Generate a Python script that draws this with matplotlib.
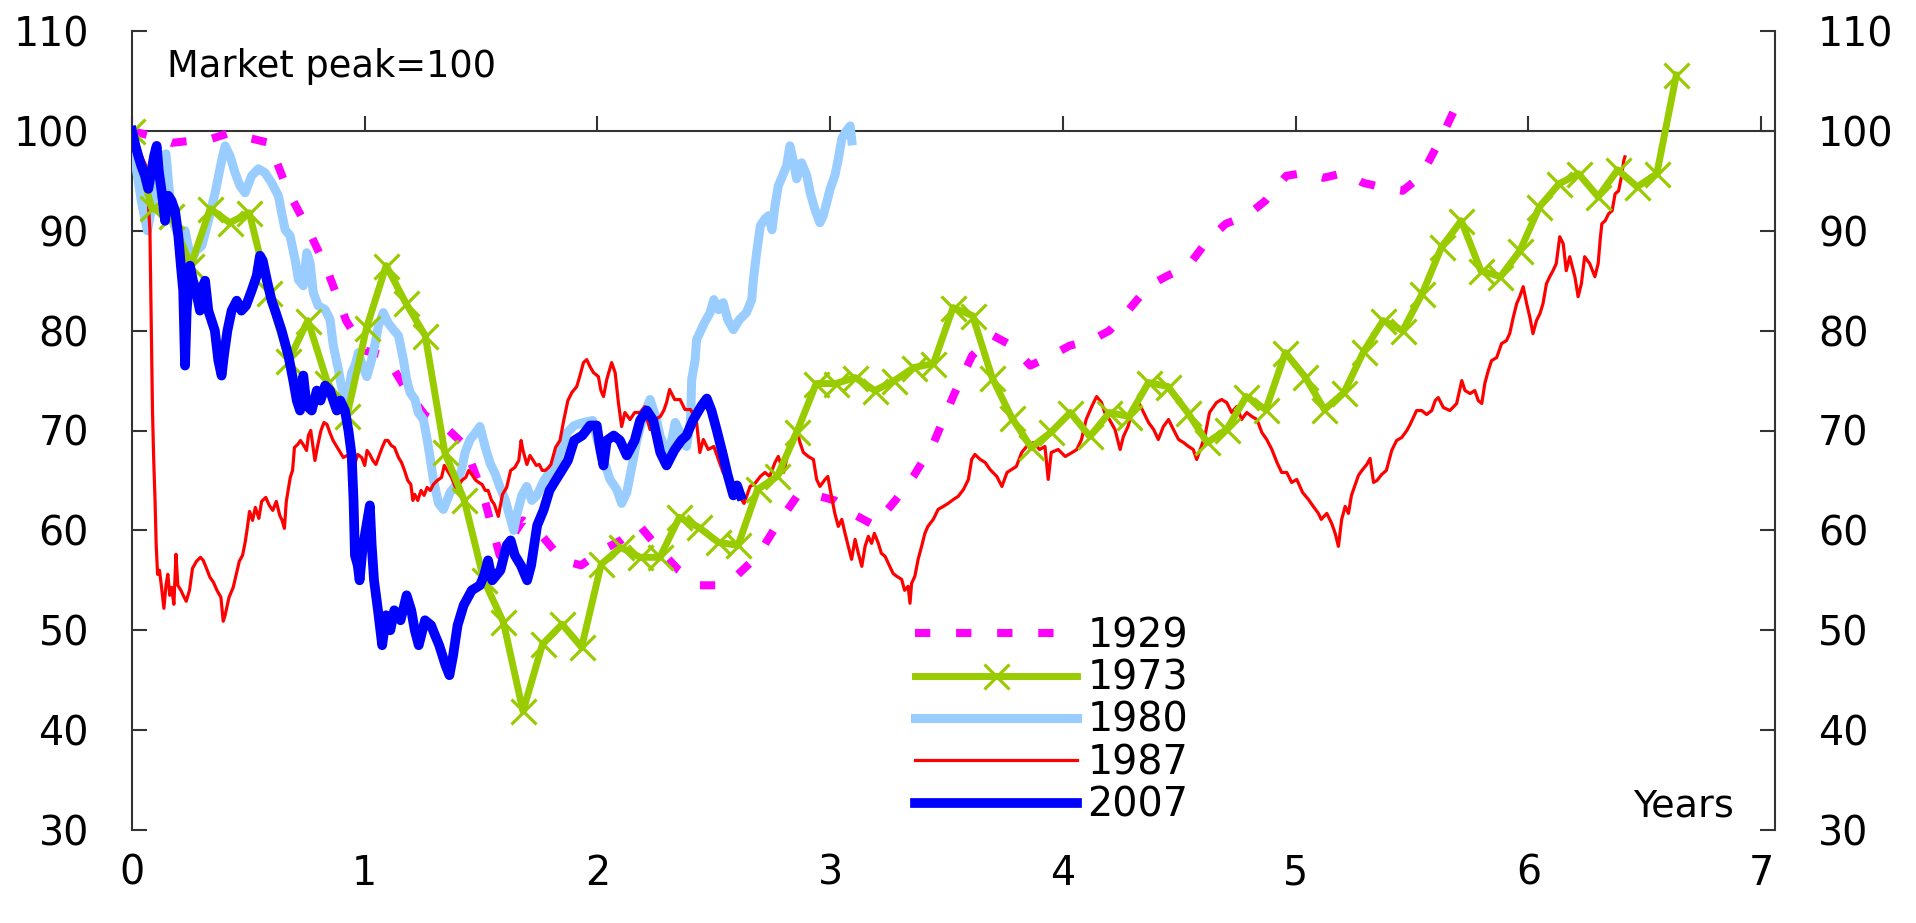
import matplotlib
matplotlib.use("Agg")
import matplotlib.pyplot as plt

# ---------------- data (years since market peak, index with peak = 100) ----------------
t1929 = [0.00, 0.08, 0.17, 0.25, 0.34, 0.42, 0.50, 0.59, 0.67, 0.76, 0.84, 0.92, 1.00, 1.09,
         1.18, 1.26, 1.34, 1.43, 1.51, 1.58, 1.68, 1.76, 1.85, 1.93, 2.02, 2.10, 2.18, 2.27,
         2.35, 2.44, 2.52, 2.60, 2.69, 2.77, 2.86, 2.94, 3.02, 3.11, 3.19, 3.28, 3.36, 3.44,
         3.53, 3.61, 3.70, 3.78, 3.86, 3.95, 4.03, 4.12, 4.20, 4.28, 4.37, 4.45, 4.54, 4.62,
         4.70, 4.79, 4.87, 4.96, 5.04, 5.12, 5.21, 5.29, 5.38, 5.46, 5.54, 5.63, 5.72]
v1929 = [100.0, 99.5, 98.8, 99.0, 99.2, 99.8, 99.3, 98.8, 94.0, 90.0, 86.0, 81.0, 78.0, 77.5,
         74.0, 71.5, 70.5, 68.5, 63.5, 57.5, 61.0, 59.5, 57.0, 56.5, 58.0, 59.0, 60.5, 58.0,
         56.0, 54.5, 54.5, 55.5, 57.5, 60.5, 63.5, 63.5, 63.0, 61.5, 60.5, 63.0, 65.5, 68.5,
         73.5, 77.5, 79.5, 78.5, 76.5, 77.5, 78.5, 79.0, 80.0, 82.0, 84.5, 85.5, 86.5, 89.0,
         90.7, 91.5, 93.0, 95.5, 95.8, 95.3, 95.8, 94.8, 94.3, 94.0, 95.5, 99.5, 104.0]

month73 = list(range(80))          # monthly observations
v1973 = [100.0, 92.3, 91.5, 86.5, 92.2, 90.8, 91.8, 83.8, 77.0, 81.0, 74.8, 71.5, 80.3, 86.5,
         82.8, 79.5, 67.8, 63.0, 55.0, 50.8, 41.9, 48.6, 50.6, 48.3, 56.6, 58.3, 57.3, 57.3,
         61.3, 60.3, 58.8, 58.5, 64.1, 65.4, 69.8, 74.7, 74.7, 75.3, 74.0, 75.0, 76.3, 76.7,
         82.3, 81.5, 75.3, 71.3, 68.3, 69.8, 71.8, 69.4, 71.8, 71.4, 74.8, 74.4, 71.8, 68.8,
         70.1, 73.4, 72.1, 77.8, 75.4, 72.1, 73.8, 77.9, 81.0, 80.0, 83.7, 88.4, 91.0, 86.0,
         85.4, 88.0, 92.4, 94.7, 95.7, 93.4, 96.1, 94.4, 95.7, 105.6]
YEARS_PER_MONTH73 = 0.084

t1980 = [0.000, 0.020, 0.040, 0.066, 0.090, 0.110, 0.130, 0.146, 0.160, 0.175, 0.200, 0.228,
         0.245, 0.256, 0.275, 0.300, 0.328, 0.357, 0.385, 0.400, 0.421, 0.443, 0.464, 0.486,
         0.514, 0.543, 0.572, 0.600, 0.629, 0.643, 0.658, 0.679, 0.701, 0.715, 0.736, 0.751,
         0.765, 0.779, 0.800, 0.830, 0.851, 0.865, 0.887, 0.900, 0.922, 0.944, 0.958, 0.973,
         0.990, 1.009, 1.023, 1.037, 1.059, 1.080, 1.100, 1.123, 1.145, 1.166, 1.180, 1.195,
         1.216, 1.230, 1.252, 1.266, 1.280, 1.295, 1.317, 1.338, 1.367, 1.388, 1.417, 1.431,
         1.453, 1.474, 1.495, 1.517, 1.539, 1.560, 1.580, 1.603, 1.640, 1.653, 1.675, 1.696,
         1.718, 1.740, 1.770, 1.800, 1.820, 1.850, 1.870, 1.900, 1.940, 1.980, 2.000, 2.026,
         2.054, 2.083, 2.104, 2.126, 2.148, 2.170, 2.197, 2.226, 2.254, 2.270, 2.300, 2.320,
         2.334, 2.355, 2.383, 2.400, 2.405, 2.420, 2.426, 2.440, 2.460, 2.484, 2.500, 2.520,
         2.540, 2.560, 2.584, 2.610, 2.640, 2.663, 2.670, 2.684, 2.700, 2.720, 2.735, 2.750,
         2.763, 2.777, 2.790, 2.813, 2.827, 2.840, 2.856, 2.877, 2.900, 2.914, 2.935, 2.956,
         2.970, 2.985, 3.000, 3.020, 3.035, 3.050, 3.064, 3.086, 3.093]
v1980 = [100.0, 96.0, 93.0, 90.0, 93.0, 96.0, 97.5, 97.7, 94.0, 91.0, 89.5, 90.0,
         88.0, 87.0, 88.0, 88.5, 91.0, 93.8, 97.0, 98.5, 97.5, 95.8, 94.5, 93.8,
         95.5, 96.2, 95.8, 94.8, 93.5, 91.8, 90.1, 89.5, 87.1, 85.1, 84.5, 87.8,
         86.8, 83.8, 82.5, 82.1, 81.1, 78.5, 76.1, 74.4, 72.8, 75.8, 76.5, 77.8,
         76.5, 75.4, 76.5, 77.8, 80.5, 81.8, 80.8, 80.1, 79.5, 77.1, 75.1, 73.8,
         73.1, 71.8, 71.1, 69.4, 67.4, 65.1, 62.7, 62.1, 63.8, 64.4, 66.1, 67.8,
         69.1, 69.7, 70.4, 68.4, 66.7, 65.7, 64.4, 63.1, 60.0, 61.5, 63.5, 64.4,
         63.0, 63.5, 65.0, 66.0, 66.5, 68.5, 69.8, 70.5, 70.8, 71.0, 69.0, 67.1,
         65.1, 64.1, 62.7, 63.8, 66.4, 69.1, 71.4, 73.1, 71.1, 69.4, 67.8, 69.1,
         70.8, 69.8, 68.4, 71.1, 75.1, 77.1, 79.1, 79.8, 80.8, 81.8, 83.1, 82.1,
         82.8, 81.1, 80.1, 81.1, 81.8, 83.1, 85.1, 87.8, 90.5, 91.2, 91.5, 90.1,
         92.5, 94.5, 95.2, 96.5, 98.5, 97.2, 95.2, 96.8, 95.5, 93.8, 92.1, 90.8,
         91.5, 92.8, 94.2, 95.5, 97.2, 99.2, 99.8, 100.5, 99.0]

t1987 = [0.000, 0.020, 0.040, 0.060, 0.070, 0.077, 0.083, 0.088, 0.093, 0.099, 0.104, 0.110,
         0.118, 0.127, 0.137, 0.146, 0.154, 0.162, 0.170, 0.180, 0.189, 0.197, 0.210, 0.220,
         0.233, 0.247, 0.260, 0.277, 0.294, 0.306, 0.320, 0.335, 0.350, 0.365, 0.382, 0.392,
         0.400, 0.417, 0.435, 0.450, 0.461, 0.475, 0.487, 0.497, 0.505, 0.518, 0.530, 0.545,
         0.557, 0.575, 0.590, 0.605, 0.620, 0.635, 0.645, 0.655, 0.663, 0.680, 0.690, 0.698,
         0.712, 0.724, 0.738, 0.750, 0.758, 0.768, 0.777, 0.786, 0.798, 0.812, 0.825, 0.838,
         0.850, 0.864, 0.882, 0.895, 0.908, 0.925, 0.943, 0.955, 0.970, 0.987, 1.000, 1.010,
         1.022, 1.035, 1.048, 1.062, 1.075, 1.088, 1.100, 1.114, 1.128, 1.145, 1.158, 1.171,
         1.185, 1.198, 1.207, 1.215, 1.228, 1.242, 1.255, 1.268, 1.282, 1.295, 1.312, 1.330,
         1.342, 1.355, 1.373, 1.390, 1.404, 1.417, 1.434, 1.447, 1.460, 1.478, 1.490, 1.504,
         1.518, 1.530, 1.545, 1.557, 1.574, 1.583, 1.592, 1.610, 1.627, 1.645, 1.662, 1.672,
         1.680, 1.697, 1.710, 1.724, 1.737, 1.750, 1.763, 1.776, 1.790, 1.800, 1.820, 1.839,
         1.855, 1.873, 1.890, 1.911, 1.925, 1.940, 1.954, 1.968, 1.983, 2.004, 2.015, 2.026,
         2.040, 2.061, 2.076, 2.090, 2.104, 2.118, 2.140, 2.160, 2.183, 2.204, 2.215, 2.226,
         2.247, 2.270, 2.285, 2.297, 2.310, 2.332, 2.355, 2.376, 2.400, 2.415, 2.426, 2.440,
         2.455, 2.476, 2.500, 2.520, 2.540, 2.563, 2.584, 2.610, 2.630, 2.656, 2.677, 2.700,
         2.720, 2.740, 2.763, 2.777, 2.790, 2.800, 2.813, 2.827, 2.840, 2.856, 2.870, 2.885,
         2.906, 2.928, 2.942, 2.956, 2.978, 2.990, 3.000, 3.020, 3.035, 3.050, 3.064, 3.078,
         3.092, 3.107, 3.120, 3.136, 3.150, 3.164, 3.178, 3.190, 3.207, 3.220, 3.236, 3.250,
         3.270, 3.286, 3.307, 3.320, 3.335, 3.343, 3.350, 3.364, 3.378, 3.393, 3.407, 3.420,
         3.443, 3.464, 3.486, 3.507, 3.530, 3.550, 3.573, 3.594, 3.608, 3.622, 3.645, 3.666,
         3.687, 3.716, 3.738, 3.760, 3.780, 3.800, 3.823, 3.844, 3.873, 3.900, 3.923, 3.937,
         3.950, 3.980, 4.010, 4.040, 4.060, 4.080, 4.100, 4.124, 4.145, 4.166, 4.180, 4.200,
         4.224, 4.246, 4.260, 4.280, 4.300, 4.326, 4.347, 4.368, 4.390, 4.410, 4.432, 4.454,
         4.475, 4.497, 4.518, 4.540, 4.560, 4.575, 4.590, 4.610, 4.630, 4.660, 4.682, 4.704,
         4.725, 4.747, 4.768, 4.790, 4.812, 4.834, 4.855, 4.876, 4.898, 4.920, 4.940, 4.962,
         4.983, 5.005, 5.030, 5.055, 5.076, 5.098, 5.110, 5.134, 5.155, 5.170, 5.184, 5.198,
         5.213, 5.227, 5.240, 5.255, 5.270, 5.285, 5.306, 5.320, 5.335, 5.350, 5.370, 5.390,
         5.413, 5.434, 5.456, 5.478, 5.492, 5.506, 5.520, 5.542, 5.563, 5.585, 5.600, 5.613,
         5.635, 5.663, 5.692, 5.714, 5.728, 5.750, 5.770, 5.785, 5.800, 5.813, 5.828, 5.842,
         5.864, 5.885, 5.906, 5.920, 5.935, 5.950, 5.963, 5.978, 5.993, 6.007, 6.020, 6.035,
         6.050, 6.063, 6.078, 6.092, 6.106, 6.120, 6.135, 6.150, 6.163, 6.178, 6.200, 6.214,
         6.228, 6.242, 6.264, 6.286, 6.300, 6.310, 6.316, 6.330, 6.345, 6.360, 6.373, 6.388,
         6.400, 6.410, 6.415]
v1987 = [100.0, 99.0, 97.5, 96.5, 93.0, 90.0, 80.0, 72.0, 67.3, 63.0, 58.5, 55.6,
         56.0, 54.3, 52.2, 54.5, 55.6, 53.5, 54.3, 52.6, 57.6, 54.5, 54.0, 53.5,
         52.9, 54.0, 56.2, 56.9, 57.3, 57.0, 56.2, 55.3, 54.8, 54.0, 53.3, 50.9,
         51.5, 53.3, 54.3, 55.8, 56.9, 57.5, 58.9, 60.5, 61.9, 61.0, 62.3, 61.2,
         62.9, 63.3, 62.5, 62.0, 62.9, 61.5, 61.0, 60.2, 62.9, 65.3, 66.0, 68.3,
         68.6, 69.0, 68.5, 68.0, 69.5, 70.0, 68.5, 67.0, 68.5, 70.0, 70.8, 70.6,
         69.8, 69.0, 68.3, 67.8, 67.3, 67.5, 67.0, 66.5, 67.6, 67.3, 66.5, 68.0,
         67.6, 67.0, 66.6, 67.5, 68.3, 69.0, 69.0, 68.5, 68.3, 67.3, 66.8, 66.0,
         65.0, 64.6, 63.0, 63.6, 63.0, 64.0, 63.5, 64.3, 64.0, 64.6, 65.0, 65.3,
         66.5, 66.0, 65.3, 64.3, 64.5, 65.0, 65.3, 66.0, 65.6, 65.0, 64.8, 64.6,
         64.0, 64.0, 63.0, 62.6, 61.4, 62.5, 63.6, 64.3, 66.0, 66.3, 67.0, 69.0,
         68.0, 66.6, 67.5, 67.0, 66.5, 66.6, 66.0, 66.0, 66.3, 66.6, 68.3, 69.0,
         71.0, 73.0, 73.8, 74.4, 75.5, 76.8, 77.1, 76.4, 75.8, 75.4, 74.0, 73.4,
         75.1, 76.8, 75.8, 72.8, 70.4, 71.8, 71.1, 71.8, 71.8, 72.4, 71.0, 70.1,
         71.1, 71.4, 72.0, 72.8, 74.1, 73.1, 73.1, 72.1, 72.1, 71.5, 70.8, 67.8,
         69.1, 68.1, 68.4, 67.1, 65.8, 65.1, 64.4, 63.4, 62.7, 64.4, 64.7, 65.4,
         65.8, 65.4, 66.8, 67.4, 66.5, 65.8, 67.1, 68.4, 69.4, 70.1, 68.8, 67.8,
         67.4, 67.1, 65.1, 64.4, 65.1, 65.4, 64.1, 61.7, 60.4, 61.1, 59.7, 58.4,
         57.1, 59.1, 57.8, 56.4, 58.4, 59.4, 58.7, 59.7, 58.7, 57.7, 57.4, 56.7,
         55.7, 55.4, 55.1, 54.0, 54.4, 52.7, 54.7, 55.4, 57.1, 58.4, 59.7, 60.4,
         61.1, 62.1, 62.4, 62.7, 63.1, 63.4, 64.1, 65.1, 67.1, 67.6, 67.1, 66.8,
         66.1, 65.4, 64.4, 65.8, 66.1, 66.4, 67.8, 68.4, 68.8, 68.1, 68.4, 65.1,
         67.8, 68.1, 67.4, 67.8, 68.1, 69.1, 71.1, 72.4, 73.4, 72.8, 71.8, 71.1,
         70.1, 68.1, 69.4, 70.4, 72.1, 72.8, 71.8, 70.8, 70.1, 69.1, 70.4, 71.1,
         70.1, 69.1, 68.8, 68.4, 68.1, 67.1, 68.1, 69.4, 71.8, 72.8, 73.1, 72.8,
         71.8, 72.4, 71.1, 71.8, 71.4, 71.1, 69.8, 69.1, 68.1, 66.8, 65.8, 65.8,
         64.8, 65.1, 63.8, 63.1, 62.4, 61.7, 61.1, 61.7, 60.7, 59.7, 58.4, 61.1,
         62.4, 61.7, 63.5, 64.5, 65.5, 66.0, 66.6, 67.2, 64.8, 65.0, 65.6, 66.0,
         68.0, 69.0, 69.3, 70.0, 70.6, 71.3, 72.0, 72.0, 71.6, 72.0, 73.0, 73.3,
         72.3, 72.0, 72.7, 75.0, 74.0, 73.7, 74.0, 73.0, 72.7, 74.7, 76.0, 77.0,
         77.3, 78.7, 79.0, 79.7, 81.3, 82.7, 83.4, 84.4, 82.7, 81.3, 79.7, 81.0,
         81.7, 82.7, 84.7, 85.4, 86.0, 86.7, 89.4, 88.7, 86.0, 87.4, 85.4, 83.4,
         84.7, 87.4, 86.7, 85.4, 86.7, 89.4, 90.7, 91.0, 91.7, 92.0, 93.7, 94.0,
         95.4, 97.0, 97.4]

t2007 = [0.000, 0.015, 0.027, 0.040, 0.056, 0.070, 0.080, 0.095, 0.106, 0.115, 0.127, 0.142,
         0.156, 0.170, 0.185, 0.199, 0.210, 0.220, 0.228, 0.235, 0.249, 0.262, 0.275, 0.292,
         0.305, 0.314, 0.328, 0.342, 0.356, 0.371, 0.385, 0.395, 0.410, 0.428, 0.450, 0.470,
         0.490, 0.514, 0.536, 0.550, 0.562, 0.580, 0.600, 0.615, 0.643, 0.672, 0.693, 0.708,
         0.722, 0.736, 0.750, 0.772, 0.794, 0.810, 0.830, 0.851, 0.865, 0.880, 0.895, 0.915,
         0.930, 0.944, 0.952, 0.958, 0.970, 0.978, 0.990, 1.004, 1.022, 1.030, 1.040, 1.057,
         1.075, 1.092, 1.110, 1.127, 1.154, 1.180, 1.200, 1.215, 1.232, 1.259, 1.285, 1.302,
         1.320, 1.347, 1.364, 1.380, 1.399, 1.425, 1.460, 1.495, 1.513, 1.530, 1.548, 1.583,
         1.610, 1.627, 1.645, 1.671, 1.698, 1.715, 1.741, 1.768, 1.794, 1.820, 1.847, 1.873,
         1.900, 1.935, 1.968, 1.997, 2.013, 2.026, 2.040, 2.070, 2.097, 2.126, 2.160, 2.183,
         2.212, 2.240, 2.270, 2.297, 2.330, 2.360, 2.383, 2.410, 2.448, 2.470, 2.490, 2.513,
         2.540, 2.560, 2.584, 2.600, 2.615]
v2007 = [100.0, 98.5, 97.5, 96.5, 95.5, 94.2, 95.5, 97.5, 98.5, 96.0, 94.0, 91.0,
         93.5, 93.0, 92.0, 89.5, 86.5, 84.0, 76.5, 82.0, 86.5, 85.0, 84.0, 82.0,
         84.5, 85.0, 82.0, 81.0, 80.0, 77.0, 75.5, 77.5, 80.0, 82.0, 83.0, 82.0,
         82.5, 84.0, 85.5, 87.5, 87.0, 85.0, 83.0, 82.0, 80.0, 77.5, 75.0, 73.0,
         72.0, 75.5, 72.5, 72.0, 74.0, 73.0, 74.5, 74.0, 73.0, 72.0, 73.0, 72.0,
         70.0, 67.5, 63.0, 57.5, 56.5, 55.0, 58.0, 60.0, 62.5, 58.5, 55.0, 52.0,
         48.5, 51.5, 50.0, 52.0, 51.0, 53.5, 52.0, 50.0, 48.5, 51.0, 50.5, 49.5,
         48.5, 46.5, 45.5, 47.5, 50.5, 52.5, 54.0, 54.5, 55.5, 57.0, 55.0, 56.0,
         58.5, 59.0, 57.5, 56.5, 55.0, 56.5, 60.5, 62.0, 64.0, 65.0, 66.0, 67.0,
         69.0, 69.5, 70.5, 70.5, 68.0, 66.5, 69.0, 69.5, 69.0, 67.5, 69.0, 71.0,
         72.0, 71.0, 67.8, 66.5, 68.0, 69.0, 69.5, 71.0, 72.5, 73.2, 72.0, 70.0,
         67.5, 65.5, 63.5, 64.5, 63.5]

x_ticks = [0, 1, 2, 3, 4, 5, 6, 7]
y_ticks = [30, 40, 50, 60, 70, 80, 90, 100, 110]
labels = ["1929", "1973", "1980", "1987", "2007"]

# ---------------- styling ----------------
C1929, C1973, C1980, C1987, C2007 = "#FF00FF", "#99CC00", "#99CCFF", "#FF0000", "#0000FF"
AXC = "#333333"
plt.rcParams["font.family"] = ["DejaVu Sans"]

W, H = 1916, 923
fig = plt.figure(figsize=(W / 100, H / 100), dpi=100)
ax = fig.add_axes([132 / W, 1 - 830 / H, (1775 - 132) / W, (830 - 31) / H])
ax.set_xlim(0, 7.06)
ax.set_ylim(30, 110)

t1973 = [m * YEARS_PER_MONTH73 for m in month73]

l29, = ax.plot(t1929, v1929, color=C1929, lw=5.8, dashes=(1.9, 3.2), solid_capstyle="butt",
               dash_capstyle="butt", zorder=2)
l80, = ax.plot(t1980, v1980, color=C1980, lw=6.5, solid_joinstyle="round", zorder=3)
l87, = ax.plot(t1987, v1987, color=C1987, lw=2.3, zorder=4)
l73, = ax.plot(t1973, v1973, color=C1973, lw=5.0, marker="x", ms=18, mew=2.3, zorder=5)
l07, = ax.plot(t2007, v2007, color=C2007, lw=7.0, solid_joinstyle="round", zorder=6)

# axes frame
for s in ("top", "bottom"):
    ax.spines[s].set_visible(False)
for s in ("left", "right"):
    ax.spines[s].set_color(AXC)
    ax.spines[s].set_linewidth(1.5)

ax.set_yticks(y_ticks)
ax.tick_params(axis="y", which="both", direction="in", length=11, width=1.5, color=AXC,
               left=True, right=True, labelleft=True, labelright=True, labelsize=28.5,
               pad=31)
ax.set_xticks(x_ticks)
ax.tick_params(axis="x", which="both", bottom=True, top=False, length=0, labelsize=28.5,
               pad=17)

# horizontal axis line at the market peak level with upward ticks
sec = ax.secondary_xaxis((100 - 30) / 80)
sec.set_xticks(x_ticks)
sec.tick_params(axis="x", direction="out", length=11, width=1.5, color=AXC,
                labeltop=False, labelbottom=False, top=True, bottom=False)
for s in sec.spines.values():
    s.set_color(AXC)
    s.set_linewidth(1.5)

ax.text(0.15, 105.4, "Market peak=100", fontsize=26.5, va="baseline", ha="left")
ax.text(6.885, 31.4, "Years", fontsize=27.5, va="baseline", ha="right")

# legend
ax.legend([l29, l73, l80, l87, l07], labels, loc="upper left",
          bbox_to_anchor=(915 / W, 1 - 616 / H), bbox_transform=fig.transFigure,
          frameon=False, fontsize=28.5, handlelength=4.1, handletextpad=0.25,
          labelspacing=0.06, borderpad=0, borderaxespad=0, numpoints=1)

fig.savefig("out.png", dpi=100)
